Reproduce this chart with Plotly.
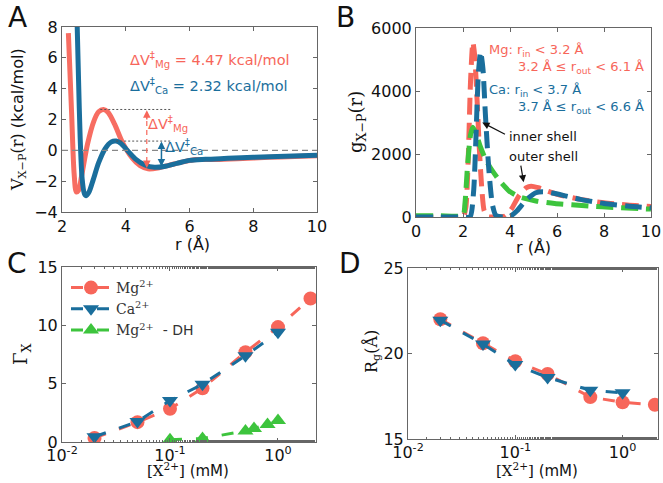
import plotly.graph_objects as go

RED = "#F7665A"
BLUE = "#1A6E9C"
GREEN = "#3DC43D"
FRAME = "#666666"

# ---------------- Panel A: potential of mean force ----------------
rA_mg = [2.2, 2.3, 2.38, 2.45, 2.52, 2.62, 2.8, 3.0, 3.15, 3.3, 3.45, 3.65, 3.9, 4.2, 4.45, 4.7, 5.0, 5.4, 5.8, 6.2, 6.8, 7.5, 8.5, 9.3, 10.0]
vA_mg = [7.6, 2.5, -1.5, -2.7, -2.6, -1.6, 0.4, 1.9, 2.5, 2.65, 2.45, 1.7, 0.5, -0.5, -1.0, -1.2, -1.15, -0.95, -0.75, -0.6, -0.6, -0.55, -0.45, -0.4, -0.35]
rA_ca = [2.47, 2.52, 2.57, 2.63, 2.7, 2.76, 2.85, 2.98, 3.15, 3.35, 3.55, 3.7, 3.85, 4.05, 4.3, 4.6, 4.9, 5.2, 5.6, 6.0, 6.5, 7.2, 8.0, 9.0, 10.0]
vA_ca = [8.6, 4.5, 0.8, -1.8, -2.8, -2.95, -2.7, -1.9, -0.8, 0.1, 0.55, 0.6, 0.45, 0.0, -0.55, -0.95, -1.1, -1.05, -0.85, -0.65, -0.58, -0.52, -0.45, -0.38, -0.32]

# ---------------- Panel B: radial distribution ----------------
rB_mg = [0, 1.0, 2.0, 2.12, 2.22, 2.32, 2.42, 2.5, 2.6, 2.7, 2.8, 2.9, 3.05, 3.4, 3.8, 4.1, 4.4, 4.7, 4.9, 5.2, 5.6, 6.0, 7.0, 8.0, 9.0, 10.0]
gB_mg = [0, 0, 0, 300, 1800, 4300, 5550, 5100, 3700, 2100, 900, 200, 10, 0, 30, 300, 700, 930, 980, 930, 820, 720, 560, 450, 380, 330]
rB_ca = [0, 1.0, 2.0, 2.3, 2.45, 2.55, 2.65, 2.75, 2.85, 2.95, 3.1, 3.25, 3.4, 3.7, 4.0, 4.3, 4.7, 5.1, 5.4, 5.8, 6.3, 7.0, 8.0, 9.0, 10.0]
gB_ca = [0, 0, 0, 0, 800, 2500, 4500, 5250, 4700, 3300, 1500, 400, 50, 0, 20, 200, 550, 770, 800, 760, 680, 560, 430, 350, 290]
rB_dh = [0, 1.0, 2.0, 2.08, 2.2, 2.32, 2.42, 2.55, 2.73, 2.95, 3.15, 3.55, 3.97, 4.4, 5.1, 5.9, 7.35, 8.5, 10.0]
gB_dh = [40, 40, 50, 400, 1700, 2600, 2850, 2650, 2250, 1850, 1580, 1160, 820, 640, 510, 430, 350, 300, 250]

# ---------------- Panel C: preferential interaction ----------------
conc_mg = [0.02, 0.05, 0.1, 0.2, 0.5, 1.0, 2.0]
gamma_mg = [0.35, 1.7, 2.85, 4.6, 7.7, 9.85, 12.3]
conc_ca = [0.02, 0.05, 0.1, 0.2, 0.5, 1.0]
gamma_ca = [0.45, 1.75, 3.55, 4.95, 7.4, 9.4]
conc_dh = [0.1, 0.2, 0.5, 0.6, 0.8, 1.0]
gamma_dh = [0.2, 0.3, 0.95, 1.15, 1.5, 1.85]

# ---------------- Panel D: radius of gyration ----------------
rg_mg = [22.0, 20.6, 19.55, 18.8, 17.45, 17.15, 17.0]
rg_ca = [21.95, 20.55, 19.35, 18.6, 17.85, 17.7]

W, H = 663, 483

def px(x0, x1):
    return [x0 / W, x1 / W]

def py(top, bottom):
    return [1 - bottom / H, 1 - top / H]

fig = go.Figure()

# Panel A traces
fig.add_trace(go.Scatter(x=rA_mg, y=vA_mg, mode="lines", line=dict(color=RED, width=5, shape="spline", smoothing=0.8),
                         opacity=0.95, xaxis="x", yaxis="y", showlegend=False))
fig.add_trace(go.Scatter(x=rA_ca, y=vA_ca, mode="lines", line=dict(color=BLUE, width=5, shape="spline", smoothing=0.8),
                         xaxis="x", yaxis="y", showlegend=False))

# Panel B traces
for r, g, c in [(rB_mg, gB_mg, RED), (rB_dh, gB_dh, GREEN), (rB_ca, gB_ca, BLUE)]:
    fig.add_trace(go.Scatter(x=r, y=g, mode="lines", line=dict(color=c, width=5, dash="17px,8px", shape="spline", smoothing=0.6),
                             xaxis="x2", yaxis="y2", showlegend=False))

# Panel C traces
fig.add_trace(go.Scatter(x=conc_mg, y=gamma_mg, mode="lines+markers", name="Mg<sup>2+</sup>",
                         line=dict(color=RED, width=3, dash="12px,14px"),
                         marker=dict(symbol="circle", size=14, color=RED),
                         xaxis="x3", yaxis="y3", legend="legend"))
fig.add_trace(go.Scatter(x=conc_ca, y=gamma_ca, mode="lines+markers", name="Ca<sup>2+</sup>",
                         line=dict(color=BLUE, width=3, dash="12px,14px"),
                         marker=dict(symbol="triangle-down", size=14, color=BLUE),
                         xaxis="x3", yaxis="y3", legend="legend"))
fig.add_trace(go.Scatter(x=conc_dh, y=gamma_dh, mode="lines+markers", name="Mg<sup>2+</sup>  <span style='font-family:DejaVu Sans'>- DH</span>",
                         line=dict(color=GREEN, width=3, dash="12px,14px"),
                         marker=dict(symbol="triangle-up", size=14, color=GREEN),
                         xaxis="x3", yaxis="y3", legend="legend"))

# Panel D traces
fig.add_trace(go.Scatter(x=conc_mg, y=rg_mg, mode="lines+markers", line=dict(color=RED, width=3, dash="12px,14px"),
                         marker=dict(symbol="circle", size=14, color=RED), xaxis="x4", yaxis="y4", showlegend=False))
fig.add_trace(go.Scatter(x=conc_ca, y=rg_ca, mode="lines+markers", line=dict(color=BLUE, width=3, dash="12px,14px"),
                         marker=dict(symbol="triangle-down", size=14, color=BLUE), xaxis="x4", yaxis="y4", showlegend=False))

tickfont = dict(family="DejaVu Sans", size=16, color="#111")

def axis(domain, anchor, rng, **kw):
    d = dict(domain=domain, anchor=anchor, range=rng, showgrid=False, zeroline=False, automargin=False,
             showline=True, linecolor=FRAME, linewidth=1, mirror="allticks",
             ticks="inside", ticklen=4, tickcolor=FRAME, tickfont=tickfont)
    d.update(kw)
    return d

minor = dict(ticks="inside", ticklen=2, tickcolor=FRAME, showgrid=False)
logticks = dict(tickvals=[0.01, 0.1, 1], ticktext=["10<sup>-2</sup>", "10<sup>-1</sup>", "10<sup>0</sup>"],
                ticklabelstandoff=-1)

fig.update_layout(
    width=W, height=H, margin=dict(l=0, r=0, t=0, b=0, autoexpand=False),
    paper_bgcolor="white", plot_bgcolor="white",
    xaxis=axis(px(62, 317), "y", [2, 10], tickvals=[2, 4, 6, 8, 10]),
    yaxis=axis(py(27, 212), "x", [-4, 8], tickvals=[-4, -2, 0, 2, 4, 6, 8], ticktext=["\u22124", "\u22122", "0", "2", "4", "6", "8"]),
    xaxis2=axis(px(416, 651), "y2", [0, 10], tickvals=[0, 2, 4, 6, 8, 10]),
    yaxis2=axis(py(28, 217), "x2", [0, 6000], tickvals=[0, 2000, 4000, 6000]),
    xaxis3=axis(px(62, 316), "y3", [-2, 0.352], type="log", minor=minor, **logticks),
    yaxis3=axis(py(267, 442), "x3", [0, 15], tickvals=[0, 5, 10, 15]),
    xaxis4=axis(px(408, 658), "y4", [-2, 0.33], type="log", minor=minor, **logticks),
    yaxis4=axis(py(268, 439), "x4", [15, 25], tickvals=[15, 20, 25]),
    legend=dict(x=66 / W, y=1 - 272 / H, xanchor="left", yanchor="top", bgcolor="rgba(0,0,0,0)",
                font=dict(family="DejaVu Serif", size=14, color="#333"), tracegroupgap=0, itemwidth=40),
)

shapes = [
    # Panel A reference lines
    dict(type="line", xref="x", yref="y", x0=2, x1=10, y0=0, y1=0, line=dict(color="#888", width=1.2, dash="6px,4px")),
    dict(type="line", xref="x", yref="y", x0=3.2, x1=5.4, y0=2.65, y1=2.65, line=dict(color="#555", width=1, dash="2px,2px")),
    dict(type="line", xref="x", yref="y", x0=3.7, x1=5.4, y0=0.6, y1=0.6, line=dict(color="#555", width=1, dash="2px,2px")),
    dict(type="line", xref="x", yref="y", x0=4.66, x1=4.66, y0=1.9, y1=-0.9, line=dict(color=RED, width=1.2, dash="5px,4px")),
    dict(type="line", xref="x", yref="y", x0=5.12, x1=5.12, y0=0.3, y1=-0.8, line=dict(color=BLUE, width=1.5)),
]
fig.update_layout(shapes=shapes)

ann = []
def arrow(x, y, ax, ay, color, xr="x", yr="y"):
    ann.append(dict(x=x, y=y, ax=ax, ay=ay, xref=xr, yref=yr, axref=xr, ayref=yr, text="",
                    showarrow=True, arrowhead=2, arrowsize=1, arrowwidth=1.5, arrowcolor=color))

arrow(4.66, 2.6, 4.66, 1.9, RED)
arrow(4.66, -1.15, 4.66, -0.6, RED)
arrow(5.12, 0.58, 5.12, 0.0, BLUE)
arrow(5.12, -1.05, 5.12, -0.5, BLUE)

def text(x, y, t, color, size, xr="x", yr="y", xanchor="left", family="DejaVu Sans"):
    ann.append(dict(x=x, y=y, xref=xr, yref=yr, text=t, showarrow=False, xanchor=xanchor, yanchor="middle",
                    borderpad=0, font=dict(family=family, size=size, color=color)))

text(4.1, 5.85, "\u0394V<sup>\u2021</sup><sub>Mg</sub> = 4.47 kcal/mol", RED, 14.5)
text(4.1, 4.2, "\u0394V<sup>\u2021</sup><sub>Ca</sub> = 2.32 kcal/mol", BLUE, 14.5)
text(4.68, 1.7, "\u0394V<sup>\u2021</sup><sub>Mg</sub>", RED, 14.5)
text(5.2, 0.2, "\u0394V<sup>\u2021</sup><sub>Ca</sub>", BLUE, 14.5)

# Panel B annotations
text(3.05, 5300, "Mg: r<sub>in</sub> < 3.2 \u00c5", RED, 13, "x2", "y2")
text(4.28, 4760, "3.2 \u00c5 \u2264 r<sub>out</sub> < 6.1 \u00c5", RED, 13, "x2", "y2")
text(3.05, 4030, "Ca: r<sub>in</sub> < 3.7 \u00c5", BLUE, 13, "x2", "y2")
text(4.28, 3490, "3.7 \u00c5 \u2264 r<sub>out</sub> < 6.6 \u00c5", BLUE, 13, "x2", "y2")
text(3.92, 2560, "inner shell", "#111", 13, "x2", "y2")
text(3.92, 1920, "outer shell", "#111", 13, "x2", "y2")
ann.append(dict(x=2.82, y=3000, ax=3.85, ay=2600, xref="x2", yref="y2", axref="x2", ayref="y2", text="",
                showarrow=True, arrowhead=2, arrowsize=1.2, arrowwidth=1.2, arrowcolor="#111"))
ann.append(dict(x=4.58, y=1100, ax=4.45, ay=1680, xref="x2", yref="y2", axref="x2", ayref="y2", text="",
                showarrow=True, arrowhead=2, arrowsize=1.2, arrowwidth=1.2, arrowcolor="#111"))

# Axis titles and panel letters (paper coordinates)
def ptext(xp, yp, t, size, angle=0, family="DejaVu Sans", color="#111", xanchor="center"):
    ann.append(dict(x=xp / W, y=1 - yp / H, xref="paper", yref="paper", text=t, showarrow=False, textangle=angle,
                    xanchor=xanchor, yanchor="middle", font=dict(family=family, size=size, color=color)))

serif = "<span style='font-family:DejaVu Serif'>"
ptext(18, 120, serif + "V<sub>X\u2212P</sub>(r)</span> (kcal/mol)", 16, -90)
ptext(192, 244, "r (\u00c5)", 16)
ptext(357, 122, serif + "g<sub>X\u2212P</sub>(r)</span>", 18, -90)
ptext(533, 247, "r (\u00c5)", 16)
ptext(22, 354, serif + "\u0393<sub>X</sub></span>", 18, -90)
ptext(188, 470, serif + "[X<sup>2+</sup>]</span> (mM)", 15)
ptext(372, 352, serif + "R<sub>g</sub>(\u00c5)</span>", 16, -90)
ptext(537, 470, serif + "[X<sup>2+</sup>]</span> (mM)", 15)

ptext(17, 17, "A", 28)
ptext(345, 17, "B", 28)
ptext(17, 263, "C", 28)
ptext(350, 263, "D", 28)

fig.update_layout(annotations=ann)
fig.write_html("out.html")
